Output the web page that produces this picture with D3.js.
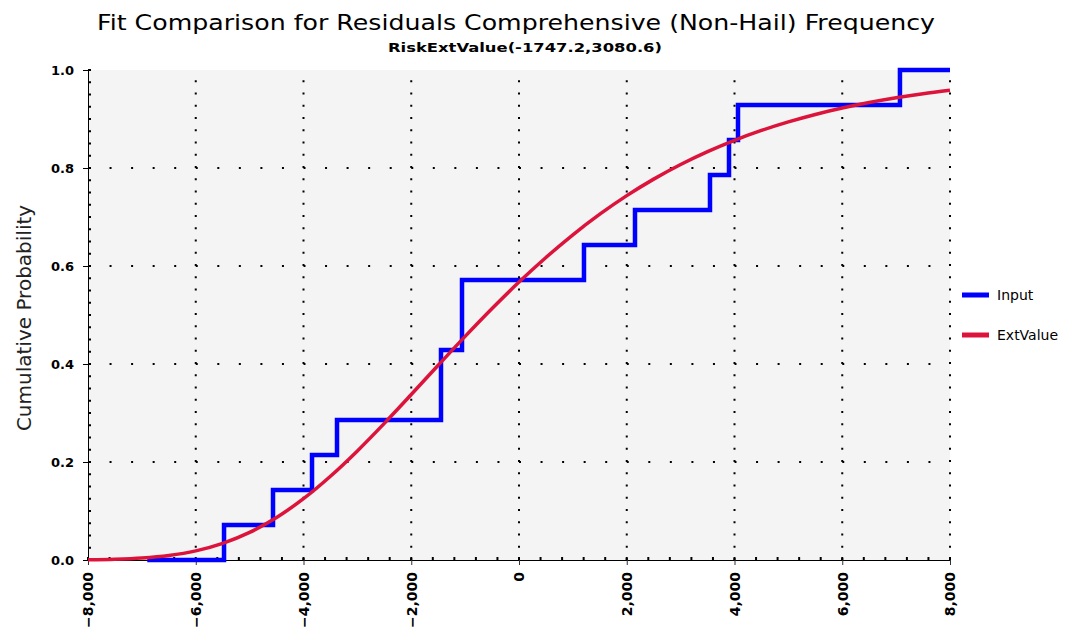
<!DOCTYPE html>
<html>
<head>
<meta charset="utf-8">
<script src="https://cdn.jsdelivr.net/npm/d3@7"></script>
<style>
  html, body { margin: 0; padding: 0; background: #ffffff; }
  svg { display: block; }
</style>
</head>
<body>
<svg id="chart" width="1073" height="632"></svg>
<script>
// ---- Data ----
const titleText = "Fit Comparison for Residuals Comprehensive (Non-Hail) Frequency";
const subtitleText = "RiskExtValue(-1747.2,3080.6)";
const yTitleText = "Cumulative Probability";
const seriesNames = ["Input", "ExtValue"];

const xTicks = [-8000, -6000, -4000, -2000, 0, 2000, 4000, 6000, 8000];
const yTicks = [0.0, 0.2, 0.4, 0.6, 0.8, 1.0];

// Input empirical CDF: sorted sample values and cumulative probabilities
const inputStartX = -6900;
const inputValues = [-5475, -4566, -3842, -3378, -1448, -1448, -1058, -1058, 1206, 2153, 3545, 3898, 4065, 7071];
const inputProbs  = [0.0714, 0.1429, 0.2143, 0.2857, 0.3571, 0.4286, 0.5000, 0.5714, 0.6429, 0.7143, 0.7857, 0.8571, 0.9286, 1.0000];

// ExtValue fitted CDF
const extX = [-8000, -7500, -7000, -6500, -6000, -5500, -5000, -4500, -4000, -3500, -3000, -2500, -2000, -1500, -1000, -500,
              0, 500, 1000, 1500, 2000, 2500, 3000, 3500, 4000, 4500, 5000, 5500, 6000, 6500, 7000, 7500, 8000];
const extP = [0.0005, 0.0016, 0.0041, 0.0093, 0.0187, 0.0340, 0.0564, 0.0868, 0.1252, 0.1710, 0.2227, 0.2789, 0.3377, 0.3974, 0.4563, 0.5132,
              0.5672, 0.6174, 0.6637, 0.7057, 0.7436, 0.7773, 0.8072, 0.8335, 0.8566, 0.8767, 0.8941, 0.9093, 0.9223, 0.9335, 0.9432, 0.9515, 0.9586];

// ---- Layout ----
const L = 88, R = 950, T = 70, B = 560;
const svg = d3.select("#chart");
const x = d3.scaleLinear().domain([-8000, 8000]).range([L, R]);
const y = d3.scaleLinear().domain([0, 1]).range([B, T]);

// plot background
svg.append("rect").attr("x", L).attr("y", T).attr("width", R - L).attr("height", B - T)
  .attr("fill", "#f4f4f4");

// grid
const grid = svg.append("g");
xTicks.filter(v => v > -8000).forEach(v => {
  grid.append("line").attr("x1", x(v)).attr("x2", x(v)).attr("y1", B).attr("y2", T)
    .attr("stroke", "#000").attr("stroke-width", 2)
    .attr("stroke-dasharray", "2," + ((B - T) / 40 - 2));
});
yTicks.filter(v => v > 0 && v < 1).forEach(v => {
  grid.append("line").attr("x1", L).attr("x2", R).attr("y1", y(v)).attr("y2", y(v))
    .attr("stroke", "#000").attr("stroke-width", 2)
    .attr("stroke-dasharray", "2," + ((R - L) / 40 - 2));
});

// axes
const fmt = d3.format(",");
const xAxis = d3.axisBottom(x).tickValues(xTicks).tickSize(5).tickFormat(d => d === 0 ? "0" : fmt(d));
const gx = svg.append("g").attr("transform", `translate(0,${B})`).call(xAxis);
gx.select(".domain").attr("stroke", "#000");
gx.selectAll(".tick line").attr("stroke", "#333");
gx.selectAll(".tick text")
  .attr("transform", "rotate(-90)")
  .attr("text-anchor", "end")
  .attr("x", -12).attr("y", 0).attr("dy", "0.35em")
  .style("font-family", "DejaVu Sans, sans-serif")
  .style("font-weight", "bold")
  .style("font-size", "14px")
  .attr("fill", "#000");

// minor x ticks (inside)
const xMinor = d3.range(-8000, 8001, 400);
svg.append("g").selectAll("line").data(xMinor).join("line")
  .attr("x1", d => x(d)).attr("x2", d => x(d)).attr("y1", B).attr("y2", B - 3)
  .attr("stroke", "#000").attr("stroke-width", 2);

const yAxis = d3.axisLeft(y).tickValues(yTicks).tickSize(5).tickFormat(d3.format(".1f"));
const gy = svg.append("g").attr("transform", `translate(${L},0)`).call(yAxis);
gy.select(".domain").attr("stroke", "#000");
gy.selectAll(".tick line").attr("stroke", "#000");
gy.selectAll(".tick text")
  .attr("x", -14)
  .style("font-family", "DejaVu Sans, sans-serif")
  .style("font-weight", "bold")
  .style("font-size", "13px")
  .attr("fill", "#000");

// minor y ticks (inside)
const yMinor = d3.range(0, 1.0001, 0.025);
svg.append("g").selectAll("line").data(yMinor).join("line")
  .attr("x1", L).attr("x2", L + 3).attr("y1", d => y(d)).attr("y2", d => y(d))
  .attr("stroke", "#000").attr("stroke-width", 2);

// Input step CDF
const stepData = [[inputStartX, 0]].concat(inputValues.map((v, i) => [v, inputProbs[i]])).concat([[8000, 1]]);
svg.append("path").datum(stepData)
  .attr("fill", "none").attr("stroke", "#0000ff").attr("stroke-width", 4.5)
  .attr("d", d3.line().x(d => x(d[0])).y(d => y(d[1])).curve(d3.curveStepAfter));

// ExtValue curve (drawn over the steps)
const extData = extX.map((v, i) => [v, extP[i]]);
svg.append("path").datum(extData)
  .attr("fill", "none").attr("stroke", "#dc143c").attr("stroke-width", 3.5)
  .attr("d", d3.line().x(d => x(d[0])).y(d => y(d[1])).curve(d3.curveMonotoneX));

// titles
svg.append("text").attr("x", 516).attr("y", 30).attr("text-anchor", "middle")
  .style("font-family", "DejaVu Sans, sans-serif").style("font-size", "22px")
  .attr("textLength", 838).attr("lengthAdjust", "spacingAndGlyphs")
  .attr("fill", "#000").text(titleText);
svg.append("text").attr("x", 525).attr("y", 52).attr("text-anchor", "middle")
  .style("font-family", "DejaVu Sans, sans-serif").style("font-size", "12px").style("font-weight", "bold")
  .attr("textLength", 274).attr("lengthAdjust", "spacingAndGlyphs")
  .attr("fill", "#000").text(subtitleText);
svg.append("text").attr("transform", "translate(31,318) rotate(-90)").attr("text-anchor", "middle")
  .style("font-family", "DejaVu Sans, sans-serif").style("font-size", "20px")
  .attr("fill", "#222").text(yTitleText);

// legend
const legendColors = ["#0000ff", "#dc143c"];
const lg = svg.append("g");
seriesNames.forEach((name, i) => {
  const ly = 295 + i * 40;
  lg.append("line").attr("x1", 962).attr("x2", 989).attr("y1", ly).attr("y2", ly)
    .attr("stroke", legendColors[i]).attr("stroke-width", 5);
  lg.append("text").attr("x", 997).attr("y", ly + 5)
    .style("font-family", "DejaVu Sans, sans-serif").style("font-size", "14px")
    .attr("fill", "#000").text(name);
});
</script>
</body>
</html>
